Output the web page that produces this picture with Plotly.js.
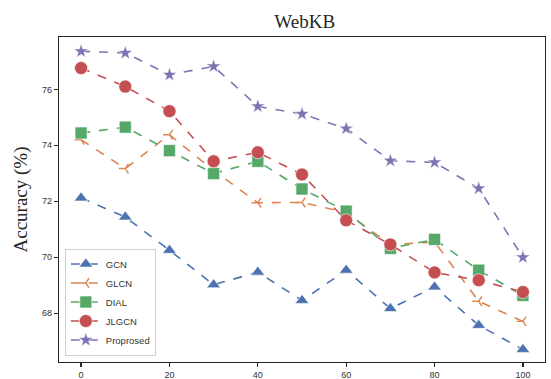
<!DOCTYPE html>
<html>
<head>
<meta charset="utf-8">
<script src="https://cdn.plot.ly/plotly-3.0.1.min.js"></script>
<style>html,body{margin:0;padding:0;background:#fff;}#chart{width:551px;height:379px;}</style>
</head>
<body>
<div id="chart"></div>
<script>
const xValues = [0, 10, 20, 30, 40, 50, 60, 70, 80, 90, 100];
const gcn = [72.12, 71.44, 70.25, 69.02, 69.47, 68.46, 69.54, 68.17, 68.94, 67.57, 66.71];
const glcn = [74.20, 73.17, 74.38, 73.10, 71.95, 71.96, 71.60, 70.45, 70.55, 68.43, 67.71];
const dial = [74.44, 74.65, 73.81, 72.99, 73.43, 72.44, 71.65, 70.32, 70.64, 69.54, 68.64];
const jlgcn = [76.76, 76.10, 75.22, 73.43, 73.75, 72.96, 71.32, 70.46, 69.46, 69.18, 68.76];
const proposed = [77.36, 77.30, 76.52, 76.82, 75.39, 75.12, 74.60, 73.45, 73.39, 72.46, 70.00];
const seriesNames = ["GCN", "GLCN", "DIAL", "JLGCN", "Proprosed"];
const xTickVals = [0, 20, 40, 60, 80, 100];
const yTickVals = [68, 70, 72, 74, 76];

const colors = ["#4C72B0", "#DD8452", "#55A868", "#C44E52", "#8172B3"];
const symbols = ["triangle-up", "y-left-open", "square", "circle", "star"];
const sizes = [12, 8, 12, 13, 11];
const data = [gcn, glcn, dial, jlgcn, proposed];

const traces = data.map((ys, i) => ({
  x: xValues, y: ys, name: seriesNames[i], type: "scatter", mode: "lines+markers",
  line: {color: colors[i], width: 1.6, dash: "dash"},
  marker: {
    symbol: symbols[i], size: sizes[i], color: colors[i],
    line: i === 1 ? {color: colors[i], width: 1.4} : {color: "#ffffff", width: 0.6}
  }
}));

const layout = {
  width: 551, height: 379,
  margin: {l: 59, r: 6, t: 37, b: 17},
  paper_bgcolor: "#ffffff", plot_bgcolor: "#ffffff",
  title: {text: "WebKB", font: {family: "Liberation Serif, serif", size: 19, color: "#262626"},
          x: 0.553, xanchor: "center", y: 0.962, yanchor: "top"},
  showlegend: true,
  legend: {x: 0.012, y: 0.02, xanchor: "left", yanchor: "bottom",
           bgcolor: "rgba(255,255,255,0.85)", bordercolor: "#d0d0d0", borderwidth: 1,
           font: {family: "Liberation Sans, Arial, sans-serif", size: 9.5, color: "#333333"},
           tracegroupgap: 0, itemwidth: 30},
  xaxis: {range: [-5, 105], tickvals: xTickVals, ticks: "outside", ticklen: 4, tickwidth: 1.2,
          tickcolor: "#262626", showgrid: false, zeroline: false, showline: true, mirror: true,
          linecolor: "#262626", linewidth: 1.3,
          tickfont: {family: "Liberation Sans, Arial, sans-serif", size: 9, color: "#333333"}},
  yaxis: {range: [66.26, 77.87], tickvals: yTickVals, ticks: "outside", ticklen: 4, tickwidth: 1.2,
          tickcolor: "#262626", showgrid: false, zeroline: false, showline: true, mirror: true,
          linecolor: "#262626", linewidth: 1.3,
          tickfont: {family: "Liberation Sans, Arial, sans-serif", size: 9, color: "#333333"},
          title: {text: "Accuracy (%)", standoff: 9,
                  font: {family: "Liberation Serif, serif", size: 19, color: "#262626"}}}
};

Plotly.newPlot("chart", traces, layout, {displayModeBar: false, staticPlot: true});
</script>
</body>
</html>
